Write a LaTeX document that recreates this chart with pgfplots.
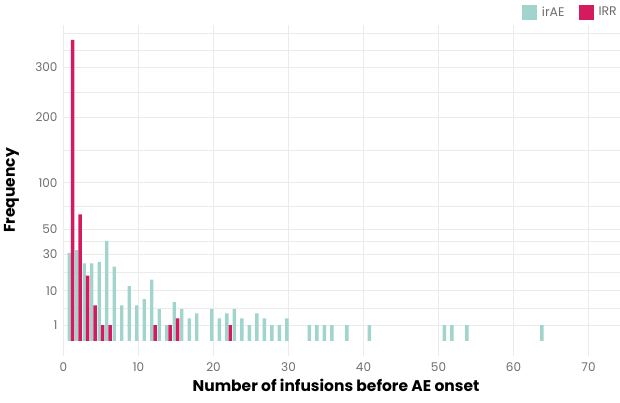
\documentclass[border=0pt]{standalone}
\usepackage{pgfplots}
\pgfplotsset{compat=1.18}
\usepackage{fontspec}
\setmainfont{Poppins}
\definecolor{teal1}{HTML}{A0D4CC}
\definecolor{crim}{HTML}{D61A60}
\definecolor{gridc}{HTML}{EBEBEB}
\definecolor{txtg}{HTML}{6E6E6E}
\begin{document}
\begin{tikzpicture}
\begin{axis}[
  at={(0,0)}, anchor=south west,
  scale only axis, width=556.5bp, height=330.8bp,
  xmin=0, xmax=74.2, ymin=-0.9025, ymax=400,
  y coord trafo/.code={\pgfmathparse{sqrt(abs(#1))*((#1)<0?-1:1)}},
  y coord inv trafo/.code={\pgfmathparse{(#1)*abs(#1)}},
  ytick={1,10,30,50,100,200,300},
  yticklabels={1,10,30,50,100,200,300},
  minor ytick={4.331,18.66,39.37,72.85,145.71,247.47,338.62,379.58},
  xtick={0,10,...,70},
  xmajorgrids, ymajorgrids, yminorgrids,
  major grid style={gridc, line width=0.9bp},
  minor grid style={gridc, line width=0.5bp},
  axis line style={draw=none}, tick style={draw=none},
  /pgf/number format/assume math mode=true,
  ticklabel style={font=\fontsize{12bp}{14bp}\selectfont, text=txtg},
  xticklabel style={anchor=north, yshift=-3.5bp},
  yticklabel style={anchor=east, xshift=-2.5bp},
  xlabel={Number of infusions before AE onset},
  ylabel={Frequency},
  every axis x label/.style={at={(axis description cs:0.4897,-0.089)}, anchor=center, font=\fontsize{15.5bp}{17bp}\selectfont\bfseries},
  every axis y label/.style={at={(axis description cs:-0.0935,0.5)}, rotate=90, anchor=center, font=\fontsize{15.5bp}{17bp}\selectfont\bfseries},
  legend style={at={(1,1)}, anchor=south east, xshift=2bp, yshift=3bp, draw=none, fill=none,
    legend columns=2, font=\fontsize{12.5bp}{14bp}\selectfont, text=txtg,
    /tikz/every odd column/.append style={column sep=3bp},
    /tikz/every even column/.append style={column sep=12bp}},
  legend cell align=left,
]
\addplot[ybar, fill=teal1, draw=none, bar width=0.45, bar shift=-0.225,
  legend image code/.code={\fill[teal1] (0bp,-7.5bp) rectangle (15bp,7.5bp);}]
  coordinates {(1,31)(2,33)(3,24)(4,24)(5,25)(6,40)(7,22)(8,5)(9,12)(10,5)(11,7)(12,15)(13,4)(14,1)(15,6)(16,4)(17,2)(18,3)(20,4)(21,2)(22,3)(23,4)(24,2)(25,1)(26,3)(27,2)(28,1)(29,1)(30,2)(33,1)(34,1)(35,1)(36,1)(38,1)(41,1)(51,1)(52,1)(54,1)(64,1)};
\addlegendentry{irAE}
\addplot[ybar, fill=crim, draw=none, bar width=0.45, bar shift=0.225,
  legend image code/.code={\fill[crim] (0bp,-7.5bp) rectangle (15bp,7.5bp);}]
  coordinates {(1,363)(2,64)(3,17)(4,5)(5,1)(6,1)(12,1)(14,1)(15,2)(22,1)};
\addlegendentry{IRR}
\end{axis}
\pgfresetboundingbox
\path[use as bounding box] (-63.5bp,-47.2bp) rectangle (556.5bp,355.8bp);
\end{tikzpicture}
\end{document}
